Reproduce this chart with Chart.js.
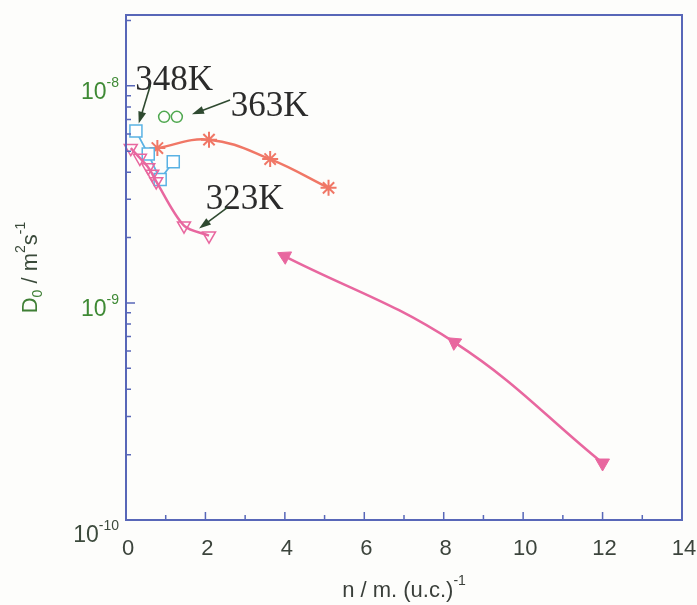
<!DOCTYPE html>
<html>
<head>
<meta charset="utf-8">
<script src="https://cdn.jsdelivr.net/npm/chart.js@4.4.1/dist/chart.umd.min.js"></script>
<style>
  html, body { margin: 0; padding: 0; background: #fdfdfb; }
</style>
</head>
<body>
<canvas id="diffChart" width="697" height="605"></canvas>
<script>
// loading n (molecules per unit cell) vs. corrected diffusivity D0 (m^2/s)
const n323 = [0.12, 0.35, 0.56, 0.66, 0.76, 1.46, 2.09];
const d323 = [5.16e-9, 4.65e-9, 4.21e-9, 3.93e-9, 3.63e-9, 2.27e-9, 2.04e-9];
const nHigh = [4.0, 8.27, 12.0];
const dHigh = [1.64e-9, 6.58e-10, 1.83e-10];
const n348 = [0.25, 0.56, 0.86, 1.19];
const d348 = [6.19e-9, 4.85e-9, 3.70e-9, 4.47e-9];
const n363 = [0.96, 1.28];
const d363 = [7.2e-9, 7.2e-9];
const nStar = [0.79, 2.09, 3.63, 5.10];
const dStar = [5.17e-9, 5.65e-9, 4.60e-9, 3.39e-9];

const xTicks = [0, 2, 4, 6, 8, 10, 12, 14];
const yDecades = [-10, -9, -8];
const X_MIN = 0, X_MAX = 14;
const Y_MIN = 1e-10, Y_MAX = 2.12e-8;

// temperature labels: text anchor and arrow (tail -> head), in data units
const tempLabels = [
    { text: '348K', at: [0.23, 9.6e-9], from: [0.61, 1.0e-8], to: [0.32, 6.7e-9] },
    { text: '363K', at: [2.64, 7.3e-9], from: [2.62, 8.6e-9], to: [1.66, 7.4e-9] },
    { text: '323K', at: [2.01, 2.72e-9], from: [2.55, 2.75e-9], to: [1.84, 2.2e-9] }
];

const PINK = '#e8679f';
const SALMON = '#f07766';
const BLUE = '#5ab2e4';
const GREEN = '#4fa84f';
const FRAME = '#5867b8';

const toPoints = (xs, ys) => xs.map((x, i) => ({ x: x, y: ys[i] }));

// draws a run of text pieces (normal / sub / superscript) starting at x
const drawRich = (ctx, parts, x, y, align) => {
    let total = 0;
    parts.forEach(p => {
        ctx.font = p.font;
        total += ctx.measureText(p.t).width;
    });
    let cx = align === 'right' ? x - total : align === 'center' ? x - total / 2 : x;
    ctx.textAlign = 'left';
    ctx.textBaseline = 'alphabetic';
    parts.forEach(p => {
        ctx.font = p.font;
        ctx.fillStyle = p.color;
        ctx.fillText(p.t, cx, y + (p.dy || 0));
        cx += ctx.measureText(p.t).width;
    });
};

const drawArrow = (ctx, x1, y1, x2, y2) => {
    const ang = Math.atan2(y2 - y1, x2 - x1);
    const len = 12, half = 4;
    ctx.strokeStyle = '#2f4a30';
    ctx.fillStyle = '#2f4a30';
    ctx.lineWidth = 1.6;
    ctx.beginPath();
    ctx.moveTo(x1, y1);
    ctx.lineTo(x2 - Math.cos(ang) * len * 0.8, y2 - Math.sin(ang) * len * 0.8);
    ctx.stroke();
    ctx.beginPath();
    ctx.moveTo(x2, y2);
    ctx.lineTo(x2 - Math.cos(ang) * len - Math.sin(ang) * half, y2 - Math.sin(ang) * len + Math.cos(ang) * half);
    ctx.lineTo(x2 - Math.cos(ang) * len + Math.sin(ang) * half, y2 - Math.sin(ang) * len - Math.cos(ang) * half);
    ctx.closePath();
    ctx.fill();
};

const framePlugin = {
    id: 'framePlugin',
    afterDatasetsDraw(chart) {
        const { ctx, scales } = chart;
        const xs = scales.x, ys = scales.y;
        // plot box from the axis limits
        const left = xs.getPixelForValue(X_MIN);
        const right = xs.getPixelForValue(X_MAX);
        const top = ys.getPixelForValue(Y_MAX);
        const bottom = ys.getPixelForValue(Y_MIN);
        ctx.save();

        // frame
        ctx.strokeStyle = FRAME;
        ctx.lineWidth = 2;
        ctx.strokeRect(left, top, right - left, bottom - top);

        // bottom ticks, pointing inward
        ctx.lineWidth = 1.5;
        ctx.beginPath();
        for (let i = X_MIN + 1; i < X_MAX; i++) {
            const px = xs.getPixelForValue(i);
            const len = i % 2 === 0 ? 8 : 5;
            ctx.moveTo(px, bottom);
            ctx.lineTo(px, bottom - len);
        }
        // left log ticks
        for (let d = -10; d <= -8; d++) {
            for (let k = 1; k <= 9; k++) {
                const v = k * Math.pow(10, d);
                if (v <= Y_MIN || v > Y_MAX) continue;
                const py = ys.getPixelForValue(v);
                const len = k === 1 ? 9 : 5;
                ctx.moveTo(left, py);
                ctx.lineTo(left + len, py);
            }
        }
        ctx.stroke();

        // x tick labels
        ctx.fillStyle = '#3c443c';
        ctx.font = '22px "Liberation Sans", Arial, sans-serif';
        ctx.textAlign = 'center';
        ctx.textBaseline = 'alphabetic';
        xTicks.forEach(t => {
            ctx.fillText(String(t), xs.getPixelForValue(t) + 2, bottom + 35);
        });

        // y tick labels 10^d
        yDecades.forEach(d => {
            const py = ys.getPixelForValue(Math.pow(10, d));
            const base = d === -10 ? py + 22 : py + 13;
            const col = d === -10 ? '#3c4a3c' : '#3f8a35';
            drawRich(ctx, [
                { t: '10', font: '23px "Liberation Sans", Arial, sans-serif', color: col },
                { t: String(d), font: '14px "Liberation Sans", Arial, sans-serif', color: col, dy: -12 }
            ], left - 7, base, 'right');
        });

        // x axis title
        drawRich(ctx, [
            { t: 'n / m. (u.c.)', font: '22px "Liberation Sans", Arial, sans-serif', color: '#3a3f3a' },
            { t: '-1', font: '14px "Liberation Sans", Arial, sans-serif', color: '#3a3f3a', dy: -12 }
        ], (left + right) / 2, bottom + 77, 'center');

        // y axis title, rotated
        ctx.save();
        ctx.translate(37, (top + bottom) / 2);
        ctx.rotate(-Math.PI / 2);
        drawRich(ctx, [
            { t: 'D', font: '22px "Liberation Sans", Arial, sans-serif', color: '#3f7f35' },
            { t: '0', font: '14px "Liberation Sans", Arial, sans-serif', color: '#3f7f35', dy: 5 },
            { t: ' / m', font: '22px "Liberation Sans", Arial, sans-serif', color: '#3a4a3a' },
            { t: '2', font: '14px "Liberation Sans", Arial, sans-serif', color: '#3a4a3a', dy: -12 },
            { t: 's', font: '22px "Liberation Sans", Arial, sans-serif', color: '#3a4a3a' },
            { t: '-1', font: '14px "Liberation Sans", Arial, sans-serif', color: '#3a4a3a', dy: -12 }
        ], 0, 0, 'center');
        ctx.restore();

        // temperature labels with arrows
        tempLabels.forEach(l => {
            ctx.font = '35px "Liberation Serif", "Times New Roman", serif';
            ctx.fillStyle = '#2b2b2b';
            ctx.textAlign = 'left';
            ctx.textBaseline = 'alphabetic';
            ctx.fillText(l.text, xs.getPixelForValue(l.at[0]), ys.getPixelForValue(l.at[1]));
            drawArrow(ctx,
                xs.getPixelForValue(l.from[0]), ys.getPixelForValue(l.from[1]),
                xs.getPixelForValue(l.to[0]), ys.getPixelForValue(l.to[1]));
        });

        ctx.restore();
    }
};

new Chart(document.getElementById('diffChart'), {
    type: 'scatter',
    data: {
        datasets: [
            {
                label: '323K',
                data: toPoints(n323, d323),
                showLine: true,
                tension: 0.3,
                borderColor: PINK,
                borderWidth: 2.5,
                pointStyle: 'triangle',
                rotation: 180,
                radius: 7.5,
                pointBorderWidth: 1.5,
                pointBorderColor: PINK,
                pointBackgroundColor: 'rgba(255,255,255,0)',
                clip: false
            },
            {
                label: '323K, high loading',
                data: toPoints(nHigh, dHigh),
                showLine: true,
                tension: 0.4,
                borderColor: PINK,
                borderWidth: 2.5,
                pointStyle: 'triangle',
                rotation: [-63, -55, 180],
                radius: 8,
                pointBorderWidth: 1,
                pointBorderColor: PINK,
                pointBackgroundColor: PINK,
                clip: false
            },
            {
                label: '348K',
                data: toPoints(n348, d348),
                showLine: true,
                tension: 0,
                borderColor: BLUE,
                borderWidth: 1.8,
                pointStyle: 'rect',
                radius: 8.5,
                pointBorderWidth: 1.5,
                pointBorderColor: BLUE,
                pointBackgroundColor: '#ffffff',
                clip: false
            },
            {
                label: '363K',
                data: toPoints(n363, d363),
                showLine: false,
                pointStyle: 'circle',
                radius: 5.5,
                pointBorderWidth: 1.5,
                pointBorderColor: GREEN,
                pointBackgroundColor: 'rgba(255,255,255,0)',
                clip: false
            },
            {
                label: 'asterisk',
                data: toPoints(nStar, dStar),
                showLine: true,
                tension: 0.4,
                borderColor: SALMON,
                borderWidth: 2.5,
                pointStyle: 'star',
                radius: 8,
                pointBorderWidth: 2,
                pointBorderColor: SALMON,
                clip: false
            }
        ]
    },
    options: {
        responsive: false,
        devicePixelRatio: 1,
        animation: false,
        layout: {
            padding: { left: 126, top: 15, right: 15, bottom: 85 }
        },
        plugins: {
            legend: { display: false },
            tooltip: { enabled: false }
        },
        scales: {
            x: { type: 'linear', min: X_MIN, max: X_MAX, display: false },
            y: { type: 'logarithmic', min: Y_MIN, max: Y_MAX, display: false }
        }
    },
    plugins: [framePlugin]
});
</script>
</body>
</html>
